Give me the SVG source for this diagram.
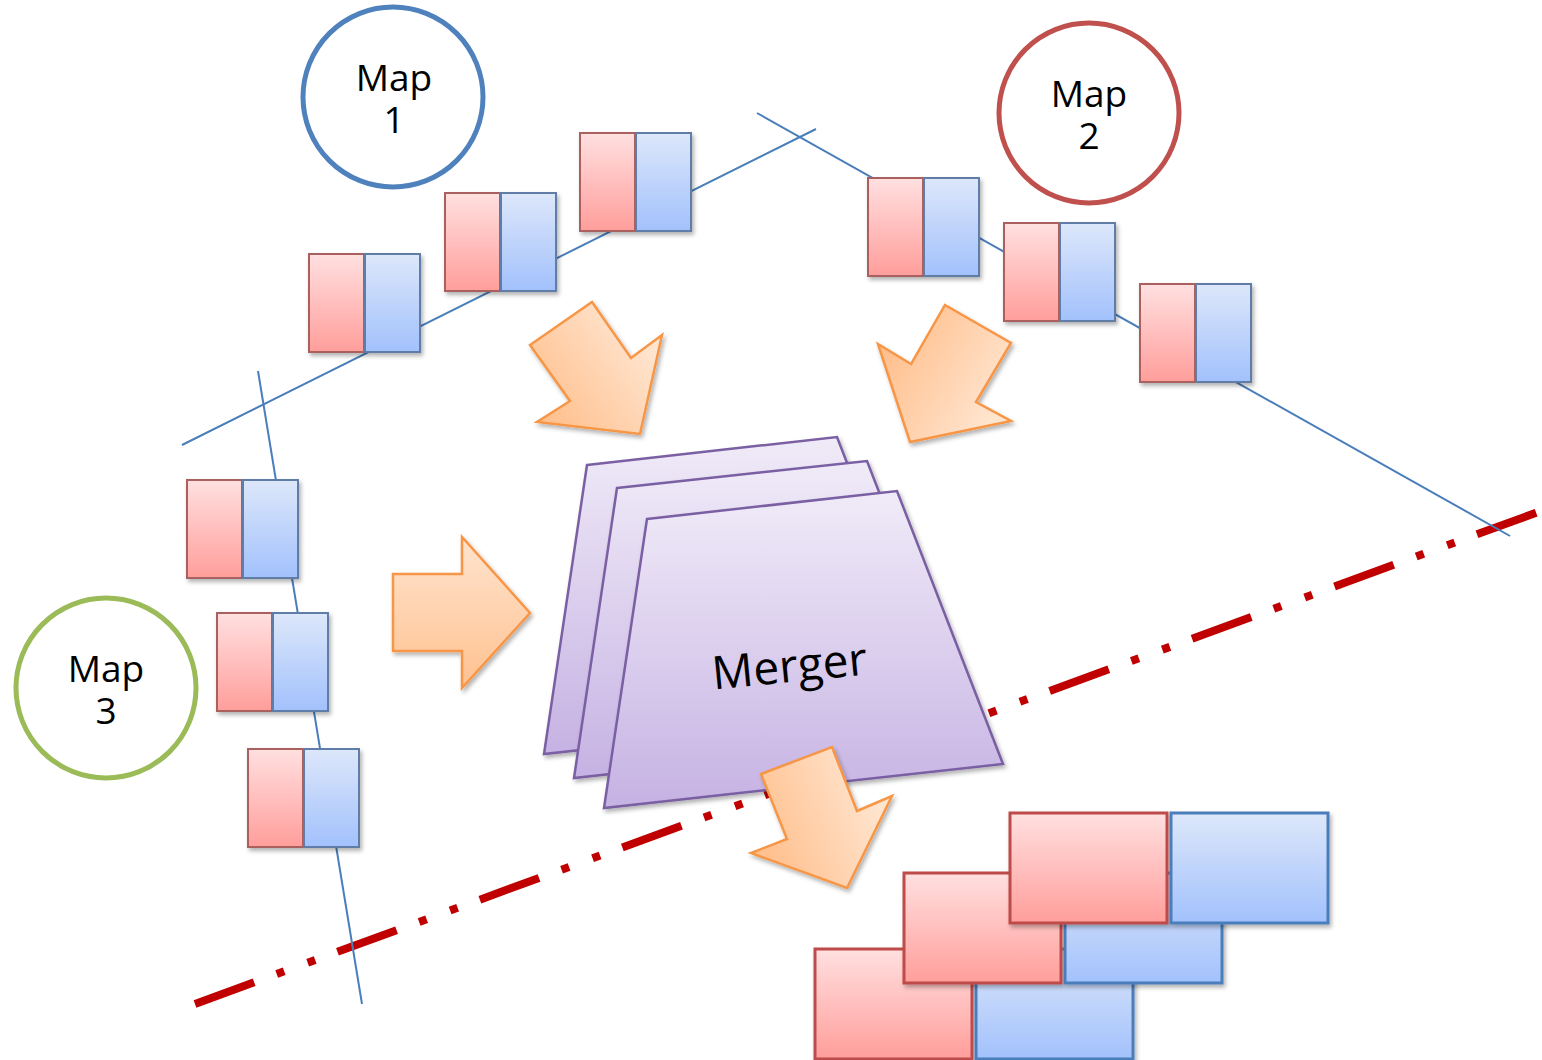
<svg xmlns="http://www.w3.org/2000/svg" xmlns:xlink="http://www.w3.org/1999/xlink" width="1542" height="1060" viewBox="0 0 1542 1060">
  <style>
    .lbl { font-family: "Open Sans", "Noto Sans", "DejaVu Sans", sans-serif; fill: #000; text-anchor: middle; }
    .map { font-size: 37px; }
    .merge { font-size: 46px; }
    .wire { stroke: #4A7EBB; stroke-width: 2; fill: none; }
    .cut { stroke: #C00000; stroke-width: 8; fill: none; stroke-dasharray: 63 24 8 25 8 23.7; }
    .ring { fill: #fff; stroke-width: 5; }
    .sr { fill: url(#gRed); stroke: #A9605E; stroke-width: 2; }
    .sb { fill: url(#gBlue); stroke: #5F7DA6; stroke-width: 2; }
    .br { fill: url(#gRed); stroke: #BE4B48; stroke-width: 3; }
    .bb { fill: url(#gBlue); stroke: #4A7EBB; stroke-width: 3; }
    .sheet { fill: url(#gPurple); stroke: #7A5FA3; stroke-width: 2.5; stroke-linejoin: miter; }
    .arrow { stroke: #F79646; stroke-width: 2.5; stroke-linejoin: miter; }
  </style>
  <defs>
    <linearGradient id="gRed" x1="0" y1="0" x2="0" y2="1">
      <stop offset="0" stop-color="#FFE0E0"/>
      <stop offset="1" stop-color="#FF9E9B"/>
    </linearGradient>
    <linearGradient id="gBlue" x1="0" y1="0" x2="0" y2="1">
      <stop offset="0" stop-color="#DDE7FA"/>
      <stop offset="1" stop-color="#A2C1FC"/>
    </linearGradient>
    <linearGradient id="gPurple" x1="0" y1="0" x2="0" y2="1">
      <stop offset="0" stop-color="#F0EBF8"/>
      <stop offset="1" stop-color="#C6B2E3"/>
    </linearGradient>
    <linearGradient id="gA1" gradientUnits="userSpaceOnUse" x1="541" y1="405" x2="639" y2="335">
      <stop offset="0" stop-color="#FFC190"/>
      <stop offset="1" stop-color="#FFE4CE"/>
    </linearGradient>
    <linearGradient id="gA2" gradientUnits="userSpaceOnUse" x1="893" y1="345" x2="997" y2="405">
      <stop offset="0" stop-color="#FFC190"/>
      <stop offset="1" stop-color="#FFE4CE"/>
    </linearGradient>
    <linearGradient id="gA3" gradientUnits="userSpaceOnUse" x1="0" y1="537" x2="0" y2="688">
      <stop offset="0" stop-color="#FFE4CE"/>
      <stop offset="1" stop-color="#FFC190"/>
    </linearGradient>
    <linearGradient id="gA4" gradientUnits="userSpaceOnUse" x1="764" y1="842" x2="876" y2="798">
      <stop offset="0" stop-color="#FFC190"/>
      <stop offset="1" stop-color="#FFE4CE"/>
    </linearGradient>
    <filter id="shadow" x="-10%" y="-10%" width="130%" height="130%">
      <feDropShadow dx="2" dy="3" stdDeviation="2" flood-color="#000" flood-opacity="0.3"/>
    </filter>
    <g id="pairSmall">
      <rect class="sr" x="0" y="0" width="55" height="98"/>
      <rect class="sb" x="56" y="0" width="55" height="98"/>
    </g>
    <g id="pairBig">
      <rect class="br" x="0" y="0" width="157" height="110"/>
      <rect class="bb" x="161" y="0" width="157" height="110"/>
    </g>
  </defs>

  <rect x="0" y="0" width="1542" height="1060" fill="#fff"/>

  <!-- boundary line and the guide lines along which segments sit -->
  <g id="connectors">
    <line class="cut" x1="195" y1="1004" x2="1538" y2="512"/>
    <line class="wire" x1="182" y1="445" x2="816" y2="129"/>
    <line class="wire" x1="757" y1="113" x2="1510" y2="536"/>
    <line class="wire" x1="258" y1="371" x2="362" y2="1004"/>
  </g>

  <!-- map tasks -->
  <g id="map1">
    <circle class="ring" cx="393" cy="97" r="90" stroke="#4F81BD"/>
    <text class="lbl map" x="394" y="91">Map<tspan x="394" dy="42">1</tspan></text>
  </g>
  <g id="map2">
    <circle class="ring" cx="1089" cy="113" r="90" stroke="#C0504D"/>
    <text class="lbl map" x="1089" y="107">Map<tspan x="1089" dy="42">2</tspan></text>
  </g>
  <g id="map3">
    <circle class="ring" cx="106" cy="688" r="90" stroke="#9BBB59"/>
    <text class="lbl map" x="106" y="682">Map<tspan x="106" dy="42">3</tspan></text>
  </g>

  <!-- spilled key/value segments -->
  <g id="seg-m1-a" filter="url(#shadow)"><use xlink:href="#pairSmall" x="309" y="254"/></g>
  <g id="seg-m1-b" filter="url(#shadow)"><use xlink:href="#pairSmall" x="445" y="193"/></g>
  <g id="seg-m1-c" filter="url(#shadow)"><use xlink:href="#pairSmall" x="580" y="133"/></g>
  <g id="seg-m2-a" filter="url(#shadow)"><use xlink:href="#pairSmall" x="868" y="178"/></g>
  <g id="seg-m2-b" filter="url(#shadow)"><use xlink:href="#pairSmall" x="1004" y="223"/></g>
  <g id="seg-m2-c" filter="url(#shadow)"><use xlink:href="#pairSmall" x="1140" y="284"/></g>
  <g id="seg-m3-a" filter="url(#shadow)"><use xlink:href="#pairSmall" x="187" y="480"/></g>
  <g id="seg-m3-b" filter="url(#shadow)"><use xlink:href="#pairSmall" x="217" y="613"/></g>
  <g id="seg-m3-c" filter="url(#shadow)"><use xlink:href="#pairSmall" x="248" y="749"/></g>

  <!-- block arrows into the merger -->
  <g id="arrow-from-map1" filter="url(#shadow)">
    <polygon class="arrow" fill="url(#gA1)" points="592,302 631,358 662,335 640,434 537,422 570,401 530,345"/>
  </g>
  <g id="arrow-from-map2" filter="url(#shadow)">
    <polygon class="arrow" fill="url(#gA2)" points="945,305 1011,343 976,402 1011,421 910,442 878,344 911,364"/>
  </g>
  <g id="arrow-from-map3" filter="url(#shadow)">
    <polygon class="arrow" fill="url(#gA3)" points="393,574 462,574 462,537 530,613 462,688 462,651 393,651"/>
  </g>

  <!-- merger stack -->
  <g id="merger">
    <polygon class="sheet" filter="url(#shadow)" points="587,465 837,437 943,710 544,754"/>
    <polygon class="sheet" filter="url(#shadow)" points="617,488 867,461 973,734 574,778"/>
    <polygon class="sheet" filter="url(#shadow)" points="647,519 897,491 1003,764 604,808"/>
    <text class="lbl merge" x="791" y="682" transform="rotate(-5.5 791 682)">Merger</text>
  </g>

  <g id="arrow-out" filter="url(#shadow)">
    <polygon class="arrow" fill="url(#gA4)" points="761,774 832,747 857,811 892,796 847,888 751,853 787,839"/>
  </g>

  <!-- merged output segments -->
  <g id="out-row1" filter="url(#shadow)"><use xlink:href="#pairBig" x="815" y="949"/></g>
  <g id="out-row2" filter="url(#shadow)"><use xlink:href="#pairBig" x="904" y="873"/></g>
  <g id="out-row3" filter="url(#shadow)"><use xlink:href="#pairBig" x="1010" y="813"/></g>
</svg>
